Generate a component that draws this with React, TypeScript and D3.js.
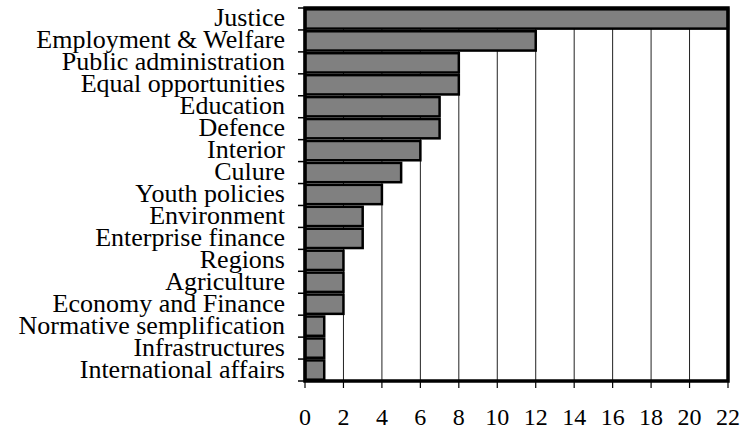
import * as d3 from 'd3';

const categories = [
  'Justice',
  'Employment & Welfare',
  'Public administration',
  'Equal opportunities',
  'Education',
  'Defence',
  'Interior',
  'Culure',
  'Youth policies',
  'Environment',
  'Enterprise finance',
  'Regions',
  'Agriculture',
  'Economy and Finance',
  'Normative semplification',
  'Infrastructures',
  'International affairs',
];
const values = [22, 12, 8, 8, 7, 7, 6, 5, 4, 3, 3, 2, 2, 2, 1, 1, 1];
const xTickValues = [0, 2, 4, 6, 8, 10, 12, 14, 16, 18, 20, 22];

const W = 744;
const H = 431;
const margin = { top: 8, right: 16, bottom: 50, left: 305 };
const FONT = '"Liberation Serif", "DejaVu Serif", serif';

export default function App() {
  const innerW = W - margin.left - margin.right;
  const innerH = H - margin.top - margin.bottom;

  const x = d3.scaleLinear().domain([0, 22]).range([0, innerW]);
  const y = d3
    .scaleBand<string>()
    .domain(categories)
    .range([0, innerH])
    .paddingInner(0.12)
    .paddingOuter(0.06);

  // band boundaries for the left tick marks
  const boundaries = d3.range(categories.length + 1).map((i) => (i * innerH) / categories.length);

  return (
    <svg width={W} height={H} style={{ position: 'absolute', left: 0, top: 0, background: '#fff' }}>
      <g transform={`translate(${margin.left},${margin.top})`}>
        {/* vertical grid */}
        {xTickValues.slice(1, -1).map((t) => (
          <line key={`g${t}`} x1={x(t)} x2={x(t)} y1={0} y2={innerH} stroke="#222" strokeWidth={1} />
        ))}

        {/* bars */}
        {categories.map((c, i) => (
          <rect
            key={c}
            x={x(0)}
            y={y(c)!}
            width={x(values[i]) - x(0)}
            height={y.bandwidth()}
            fill="#808080"
            stroke="#000"
            strokeWidth={2.5}
          />
        ))}

        {/* frame */}
        <rect x={0} y={0} width={innerW} height={innerH} fill="none" stroke="#000" strokeWidth={3.5} />

        {/* left ticks */}
        {boundaries.map((b, i) => (
          <line key={`lt${i}`} x1={-7} x2={0} y1={b} y2={b} stroke="#000" strokeWidth={1.5} />
        ))}

        {/* bottom ticks + labels */}
        {xTickValues.map((t) => (
          <g key={`bt${t}`} transform={`translate(${x(t)},${innerH})`}>
            <line y1={0} y2={7} stroke="#000" strokeWidth={1.2} />
            <text y={44} textAnchor="middle" fontFamily={FONT} fontSize={24} fill="#000">
              {t}
            </text>
          </g>
        ))}

        {/* category labels */}
        {categories.map((c) => (
          <text
            key={`l${c}`}
            x={-20}
            y={y(c)! + y.bandwidth() / 2 + 7.5}
            textAnchor="end"
            fontFamily={FONT}
            fontSize={26}
            fill="#000"
          >
            {c}
          </text>
        ))}
      </g>
    </svg>
  );
}
